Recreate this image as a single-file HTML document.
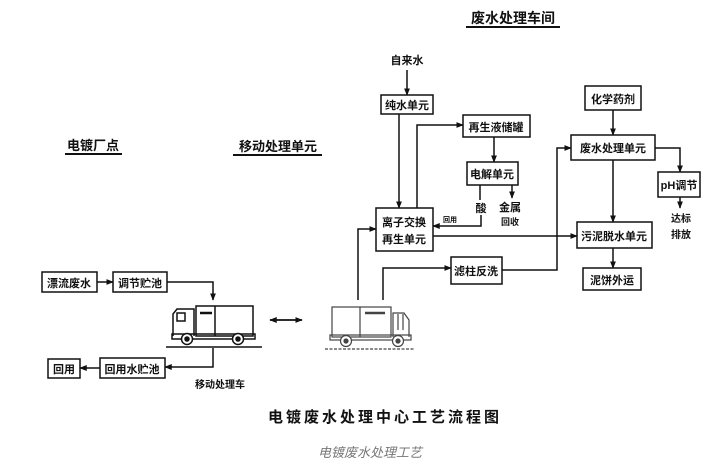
<!DOCTYPE html>
<html><head><meta charset="utf-8"><style>
html,body{margin:0;padding:0;background:#fff;}
svg{display:block;}
text{font-family:"Liberation Sans","Noto Sans CJK SC",sans-serif;fill:#111;font-weight:bold;}
</style></head><body>
<svg width="724" height="467" viewBox="0 0 724 467" xmlns="http://www.w3.org/2000/svg">
<defs><marker id="a" viewBox="0 0 10 10" refX="9" refY="5" markerWidth="5" markerHeight="5" orient="auto"><path d="M0,1 L10,5 L0,9 z" fill="#111"/></marker></defs>
<g stroke="#111" stroke-width="1.5" fill="none">
<rect x="381" y="95" width="52" height="19"/>
<rect x="463" y="115" width="67" height="22"/>
<rect x="467" y="162" width="51" height="23"/>
<rect x="376" y="208" width="57" height="43"/>
<rect x="585" y="86" width="56" height="24"/>
<rect x="571" y="135" width="84" height="25"/>
<rect x="658" y="172" width="42" height="25"/>
<rect x="577" y="222" width="75" height="26"/>
<rect x="583" y="268" width="58" height="22"/>
<rect x="451" y="257" width="51" height="27"/>
<rect x="42" y="272" width="55" height="20"/>
<rect x="113" y="272" width="54" height="20"/>
<rect x="100" y="358" width="65" height="20"/>
<rect x="48" y="359" width="32" height="19"/>
<path d="M407,70 V95" marker-end="url(#a)"/>
<path d="M399,114 V208" marker-end="url(#a)"/>
<path d="M417,208 V125 H463" marker-end="url(#a)"/>
<path d="M494,137 V162" marker-end="url(#a)"/>
<path d="M480,185 V200"/>
<path d="M512,185 V198" marker-end="url(#a)"/>
<path d="M481,215 V226 H433" marker-end="url(#a)"/>
<path d="M433,236 H577" marker-end="url(#a)"/>
<path d="M613,110 V135" marker-end="url(#a)"/>
<path d="M613,160 V222" marker-end="url(#a)"/>
<path d="M655,148 H680 V172" marker-end="url(#a)"/>
<path d="M680,197 V208" marker-end="url(#a)"/>
<path d="M613,248 V268" marker-end="url(#a)"/>
<path d="M502,270 H557 V148 H571" marker-end="url(#a)"/>
<path d="M358,300 V229 H376" marker-end="url(#a)"/>
<path d="M383,300 V268 H451" marker-end="url(#a)"/>
<path d="M97,282 H113" marker-end="url(#a)"/>
<path d="M167,282 H213 V300" marker-end="url(#a)"/>
<path d="M213,348 V367 H165" marker-end="url(#a)"/>
<path d="M100,368 H80" marker-end="url(#a)"/>
<path d="M270,320 H302" marker-end="url(#a)"/>
<path d="M302,320 H270" marker-end="url(#a)"/>
<!-- truck 1 -->
<rect x="196" y="306" width="57" height="30"/>
<line x1="215" y1="306" x2="215" y2="336"/>
<line x1="200" y1="313" x2="212" y2="313" stroke-width="2.5"/>
<path d="M173,336 V314 L177,309 H194 V336"/>
<rect x="177" y="313" width="8" height="8"/>
<rect x="172" y="334" width="83" height="5"/>
<circle cx="187" cy="339" r="5.5" fill="#fff"/>
<circle cx="187" cy="339" r="2" fill="#111"/>
<circle cx="238" cy="339" r="5.5" fill="#fff"/>
<circle cx="238" cy="339" r="2" fill="#111"/>
<line x1="166" y1="347" x2="262" y2="347"/>
</g>
<g stroke="#444" stroke-width="1.2" fill="none">
<rect x="332" y="307" width="59" height="30"/>
<line x1="360" y1="307" x2="360" y2="337"/>
<line x1="365" y1="313" x2="385" y2="313" stroke-width="2.5"/>
<path d="M393,337 V313 H404 L409,320 V337"/>
<line x1="398" y1="314" x2="398" y2="330"/>
<line x1="403" y1="314" x2="403" y2="330"/>
<rect x="330" y="335" width="81" height="5"/>
<circle cx="346" cy="341" r="5.5" fill="#fff"/>
<circle cx="346" cy="341" r="2" fill="#444"/>
<circle cx="398" cy="341" r="5.5" fill="#fff"/>
<circle cx="398" cy="341" r="2" fill="#444"/>
<line x1="325" y1="349" x2="414" y2="349" stroke-dasharray="3,1.5"/>
</g>
<g stroke="#111" stroke-width="2">
<line x1="466" y1="27" x2="560" y2="27"/>
<line x1="65" y1="154" x2="122" y2="154"/>
<line x1="233" y1="155" x2="322" y2="155"/>
</g>
<g font-size="11">
<text x="407" y="64" text-anchor="middle">自来水</text>
<text x="407" y="109" text-anchor="middle">纯水单元</text>
<text x="496" y="131" text-anchor="middle">再生液储罐</text>
<text x="492" y="178" text-anchor="middle">电解单元</text>
<text x="481" y="212" text-anchor="middle">酸</text>
<text x="510" y="211" text-anchor="middle">金属</text>
<text x="510" y="225" text-anchor="middle" font-size="9">回收</text>
<text x="450" y="222" text-anchor="middle" font-size="7">回用</text>
<text x="404" y="226" text-anchor="middle">离子交换</text>
<text x="404" y="243" text-anchor="middle">再生单元</text>
<text x="613" y="103" text-anchor="middle">化学药剂</text>
<text x="613" y="152" text-anchor="middle">废水处理单元</text>
<text x="679" y="189" text-anchor="middle">pH调节</text>
<text x="681" y="222" text-anchor="middle" font-size="10">达标</text>
<text x="681" y="238" text-anchor="middle" font-size="10">排放</text>
<text x="614" y="240" text-anchor="middle">污泥脱水单元</text>
<text x="612" y="284" text-anchor="middle">泥饼外运</text>
<text x="476" y="275" text-anchor="middle">滤柱反洗</text>
<text x="69" y="287" text-anchor="middle">漂流废水</text>
<text x="140" y="287" text-anchor="middle">调节贮池</text>
<text x="132" y="373" text-anchor="middle">回用水贮池</text>
<text x="64" y="373" text-anchor="middle">回用</text>
<text x="220" y="388" text-anchor="middle" font-size="10">移动处理车</text>
</g>
<text x="513" y="23" text-anchor="middle" font-size="14">废水处理车间</text>
<text x="93" y="150" text-anchor="middle" font-size="13">电镀厂点</text>
<text x="278" y="151" text-anchor="middle" font-size="13">移动处理单元</text>
<text x="385" y="422" text-anchor="middle" font-size="15" letter-spacing="3">电镀废水处理中心工艺流程图</text>
<text x="370" y="457" text-anchor="middle" font-size="13" style="fill:#777;font-weight:normal;font-style:italic">电镀废水处理工艺</text>
</svg>
</body></html>
